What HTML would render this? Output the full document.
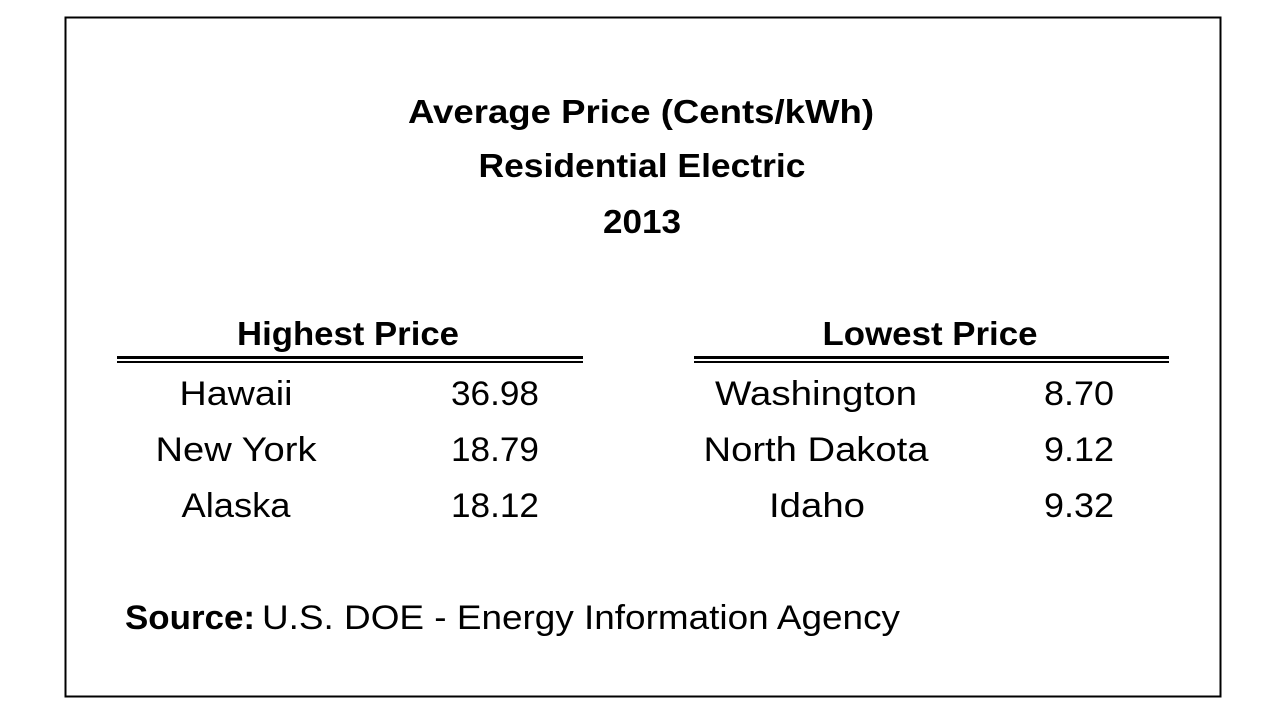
<!DOCTYPE html>
<html><head><style>body{margin:0;background:#fff}svg{display:block}</style></head><body>
<svg width="1280" height="720" xmlns="http://www.w3.org/2000/svg" font-family="Liberation Sans, sans-serif" fill="#000">
<rect x="0" y="0" width="1280" height="720" fill="#fff"/>
<rect x="65.5" y="17.5" width="1155" height="679" fill="none" stroke="#000" stroke-width="2"/>
<g font-weight="bold" font-size="33" text-anchor="middle">
<text x="641" y="123" textLength="466" lengthAdjust="spacingAndGlyphs">Average Price (Cents/kWh)</text>
<text x="642" y="177" textLength="327" lengthAdjust="spacingAndGlyphs">Residential Electric</text>
<text x="642" y="233" textLength="78" lengthAdjust="spacingAndGlyphs">2013</text>
<text x="348" y="345" textLength="222" lengthAdjust="spacingAndGlyphs">Highest Price</text>
<text x="930" y="345" textLength="215" lengthAdjust="spacingAndGlyphs">Lowest Price</text>
</g>
<rect x="117" y="356" width="466" height="3"/><rect x="117" y="361" width="466" height="2"/>
<rect x="694" y="356" width="475" height="3"/><rect x="694" y="361" width="475" height="2"/>
<g font-size="34" text-anchor="middle">
<text x="236" y="405" textLength="113" lengthAdjust="spacingAndGlyphs">Hawaii</text>
<text x="236" y="461" textLength="161" lengthAdjust="spacingAndGlyphs">New York</text>
<text x="236" y="517" textLength="109" lengthAdjust="spacingAndGlyphs">Alaska</text>
<text x="495" y="405" textLength="88" lengthAdjust="spacingAndGlyphs">36.98</text>
<text x="495" y="461" textLength="88" lengthAdjust="spacingAndGlyphs">18.79</text>
<text x="495" y="517" textLength="88" lengthAdjust="spacingAndGlyphs">18.12</text>
<text x="816" y="405" textLength="202" lengthAdjust="spacingAndGlyphs">Washington</text>
<text x="816" y="461" textLength="225" lengthAdjust="spacingAndGlyphs">North Dakota</text>
<text x="817" y="517" textLength="96" lengthAdjust="spacingAndGlyphs">Idaho</text>
<text x="1079" y="405" textLength="70" lengthAdjust="spacingAndGlyphs">8.70</text>
<text x="1079" y="461" textLength="70" lengthAdjust="spacingAndGlyphs">9.12</text>
<text x="1079" y="517" textLength="70" lengthAdjust="spacingAndGlyphs">9.32</text>
</g>
<text x="125" y="629" font-size="34" font-weight="bold" textLength="130" lengthAdjust="spacingAndGlyphs">Source:</text>
<text x="262" y="629" font-size="34" textLength="638" lengthAdjust="spacingAndGlyphs">U.S. DOE - Energy Information Agency</text>
</svg>
</body></html>
